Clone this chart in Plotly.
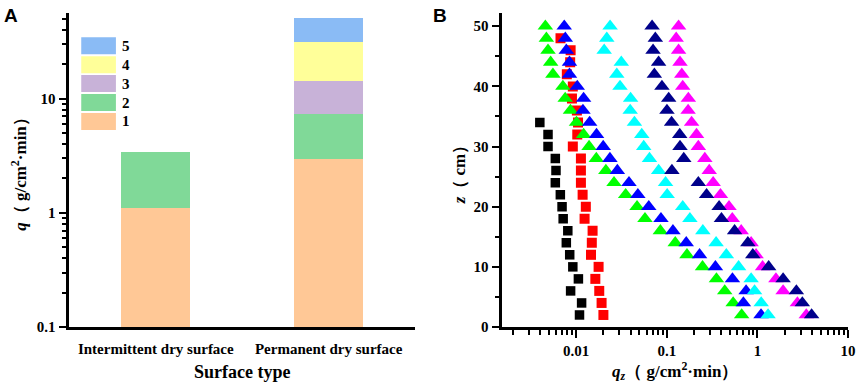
import plotly.graph_objects as go

# ---------------- Panel A data ----------------
categories = ["Intermittent dry surface", "Permanent dry surface"]
layer_names = ["1", "2", "3", "4", "5"]
layer1 = [1.106, 2.94]
layer2 = [2.32, 4.41]
layer3 = [None, 6.95]
layer4 = [None, 17.3]
layer5 = [None, 19.1]
layer_colors = ["#FFC896", "#80D998", "#C8B2D8", "#FFFF99", "#8ABBF5"]

# ---------------- Panel B data ----------------
z_tri = [50, 48, 46, 44, 42, 40, 38, 36, 34, 32, 30, 28, 26, 24, 22, 20, 18, 16, 14, 12, 10, 8, 6, 4, 2]
z_red = [48, 46, 44, 42, 40, 38, 36, 34, 32, 30, 28, 26, 24, 22, 20, 18, 16, 14, 12, 10, 8, 6, 4, 2]
z_black = [34, 32, 30, 28, 26, 24, 22, 20, 18, 16, 14, 12, 10, 8, 6, 4, 2]

q_black = [0.00398, 0.0049, 0.0049, 0.0059, 0.0060, 0.0059, 0.0067, 0.0070, 0.0072, 0.0081,
           0.0078, 0.0085, 0.0092, 0.0106, 0.0087, 0.0115, 0.0109]
q_red = [0.00673, 0.0087, 0.0086, 0.0079, 0.0092, 0.0090, 0.0102, 0.0105, 0.0103, 0.0092,
         0.0113, 0.0113, 0.0113, 0.0118, 0.0128, 0.0124, 0.0152, 0.0149, 0.0146, 0.0177,
         0.0163, 0.0180, 0.0191, 0.0200]
q_green = [0.00458, 0.0047, 0.0049, 0.00524, 0.00555, 0.00715, 0.00758, 0.00867, 0.0101, 0.0121,
           0.0139, 0.0167, 0.0213, 0.0262, 0.0352, 0.047, 0.0575, 0.085, 0.124, 0.167,
           0.248, 0.353, 0.436, 0.54, 0.67]
q_blue = [0.0074, 0.0076, 0.0078, 0.00845, 0.00845, 0.0103, 0.0121, 0.0119, 0.0141, 0.0168,
          0.0199, 0.0236, 0.0285, 0.0383, 0.048, 0.0633, 0.0863, 0.117, 0.164, 0.23,
          0.344, 0.53, 0.75, 0.70, 1.096]
q_cyan = [0.0237, 0.0218, 0.0204, 0.0315, 0.0281, 0.0305, 0.0399, 0.0395, 0.044, 0.053,
          0.0557, 0.0645, 0.0814, 0.097, 0.101, 0.150, 0.180, 0.250, 0.350, 0.454,
          0.62, 0.852, 0.93, 1.10, 1.31]
q_magenta = [0.135, 0.127, 0.135, 0.140, 0.1465, 0.150, 0.173, 0.172, 0.188, 0.213,
             0.223, 0.263, 0.294, 0.325, 0.391, 0.486, 0.528, 0.662, 0.852, 0.966,
             1.14, 1.60, 1.92, 2.76, 3.46]
q_navy = [0.0689, 0.0748, 0.0706, 0.0813, 0.073, 0.0885, 0.105, 0.1005, 0.113, 0.139,
          0.140, 0.154, 0.114, 0.223, 0.275, 0.378, 0.401, 0.560, 0.784, 0.889,
          1.33, 1.92, 2.69, 3.13, 3.96]

SERIF = "Liberation Serif"
SANS = "Liberation Sans"

fig = go.Figure()

# ---- Panel A: stacked bars ----
layers = [layer1, layer2, layer3, layer4, layer5]
for name, vals, col in zip(layer_names, layers, layer_colors):
    fig.add_trace(go.Bar(x=categories, y=vals, name=name, marker=dict(color=col, line=dict(width=0)),
                         width=0.4, xaxis="x", yaxis="y", showlegend=False))

# ---- Panel B: scatter profiles ----
series_b = [
    ("black", q_black, z_black, "#000000", "square", 9.5),
    ("red", q_red, z_red, "#FF0000", "square", 10),
    ("green", q_green, z_tri, "#00FF00", "triangle-up", 13.5),
    ("blue", q_blue, z_tri, "#0000FF", "triangle-up", 13.5),
    ("cyan", q_cyan, z_tri, "#00FFFF", "triangle-up", 13.5),
    ("magenta", q_magenta, z_tri, "#FF00FF", "triangle-up", 13.5),
    ("navy", q_navy, z_tri, "#00008B", "triangle-up", 13.5),
]
for name, q, z, col, sym, sz in series_b:
    fig.add_trace(go.Scatter(x=q, y=z, mode="markers", name=name,
                             marker=dict(color=col, symbol=sym, size=sz, line=dict(width=0)),
                             xaxis="x2", yaxis="y2", showlegend=False))

TICKFONT = dict(family=SERIF, size=15, color="black", weight="bold")
TITLEFONT = dict(family=SERIF, size=17, color="black", weight="bold")
axis_common = dict(showline=True, linecolor="black", linewidth=2.5, showgrid=False, zeroline=False,
                   ticks="outside", tickcolor="black", tickwidth=2, ticklen=8, tickfont=TICKFONT)
minor_common = dict(ticks="outside", ticklen=5, tickcolor="black", tickwidth=1.5, showgrid=False)

W, H = 865, 387
xA = [70 / W, 419 / W]
xB = [507 / W, 856 / W]

fig.update_layout(
    width=W, height=H,
    margin=dict(l=0, r=0, t=13, b=60),
    paper_bgcolor="white", plot_bgcolor="white",
    barmode="stack",
    xaxis=dict(domain=xA, anchor="y", type="category", range=[-0.5, 1.5],
               showline=True, linecolor="black", linewidth=2.5, showgrid=False, zeroline=False,
               ticks="", ticklabelstandoff=6,
               tickfont=dict(family=SERIF, size=15, color="black", weight="bold"),
               title=dict(text="Surface type", font=dict(family=SERIF, size=18, color="black", weight="bold"),
                          standoff=10)),
    yaxis=dict(domain=[0, 1], anchor="x", type="log", range=[-1, 1.75], dtick=1,
               minor=dict(dtick="D1", **minor_common),
               title=dict(text="<i>q</i>（ g/cm<sup>2</sup>·min）", font=TITLEFONT, standoff=6),
               **axis_common),
    xaxis2=dict(domain=xB, anchor="y2", type="log", range=[-2.814, 1], dtick=1,
                minor=dict(dtick="D1", **minor_common),
                title=dict(text="<i>q<sub>z</sub></i>（ g/cm<sup>2</sup>·min）", font=TITLEFONT, standoff=6),
                **axis_common),
    yaxis2=dict(domain=[0, 1], anchor="x2", range=[0, 52.2], dtick=10,
                minor=dict(dtick=5, **minor_common),
                title=dict(text="<i>z</i>（ cm）", font=TITLEFONT, standoff=4),
                **axis_common),
)

# ---- Custom legend for panel A (boxes stacked, 5 on top) ----
box_x0, box_x1 = 12 / 349, 47 / 349
top = (327 - 37.3) / 314
pitch = 18.9 / 314
hbox = 17 / 314
for i, (name, col) in enumerate(reversed(list(zip(layer_names, layer_colors)))):
    y1 = top - i * pitch
    y0 = y1 - hbox
    fig.add_shape(type="rect", xref="x domain", yref="y domain", x0=box_x0, x1=box_x1, y0=y0, y1=y1,
                  fillcolor=col, line=dict(width=0))
    fig.add_annotation(xref="x domain", yref="y domain", x=box_x1 + 4 / 349, y=(y0 + y1) / 2,
                       text=name, showarrow=False, xanchor="left", yanchor="middle",
                       font=dict(family=SERIF, size=15, color="black", weight="bold"))

# ---- Panel letters ----
fig.add_annotation(xref="paper", yref="paper", x=2 / W, y=1, yanchor="top", xanchor="left",
                   text="A", showarrow=False, yshift=10,
                   font=dict(family=SANS, size=19, color="black", weight="bold"))
fig.add_annotation(xref="paper", yref="paper", x=435 / W, y=1, yanchor="top", xanchor="left",
                   text="B", showarrow=False, yshift=10,
                   font=dict(family=SANS, size=19, color="black", weight="bold"))

fig.write_html("out.html", config={"displayModeBar": False},
               post_script="document.body.style.margin='0';")
